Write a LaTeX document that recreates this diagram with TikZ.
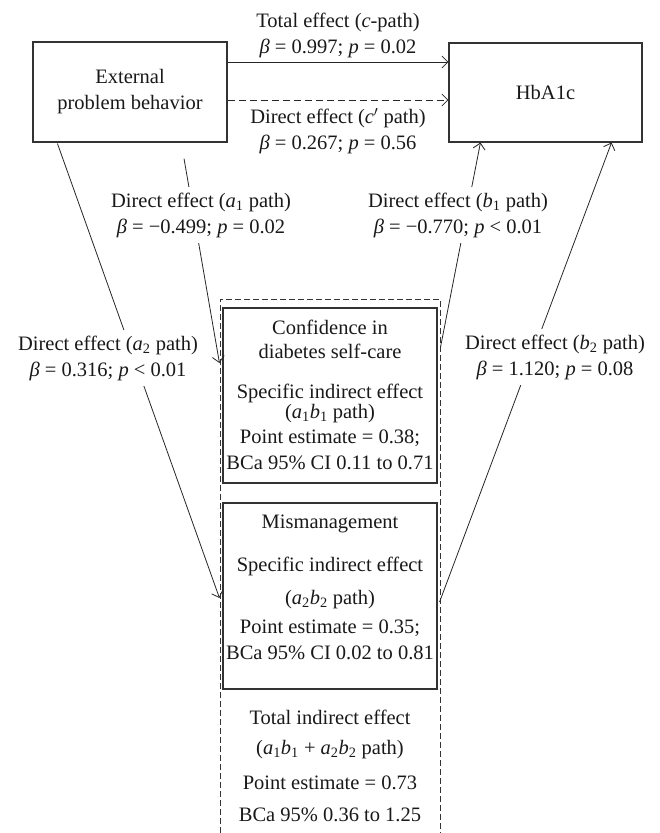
\documentclass[tikz,border=0pt]{standalone}
\usepackage{fontspec}
\setmainfont{Liberation Serif}
\usetikzlibrary{arrows.meta,calc}
\newcommand\vi[1]{\textit{#1}}
\newcommand\vsub[2]{\textit{#1}\textsubscript{#2}}
\begin{document}
\begin{tikzpicture}[x=1pt,y=-1pt,
  every node/.style={font=\fontsize{20.5}{26}\selectfont, text=black!90},
  box/.style={draw=black!80, line width=1.1pt, align=center, inner sep=0pt},
  lbl/.style={fill=white, align=center, inner xsep=3pt, inner ysep=6pt},
  ln/.style={anchor=base, inner sep=0pt},
  conn/.style={draw=black!85, line width=0.8pt, -{Straight Barb[length=6pt,width=12pt,line width=0.8pt]}},
  grp/.style={draw=black!80, line width=0.9pt, dash pattern=on 6pt off 3pt}]

\useasboundingbox (0,0) rectangle (659,833);

% main boxes
\node[box, minimum width=194pt, minimum height=100pt] (ext) at (130,92) {External\\problem behavior};
\node[box, minimum width=193pt, minimum height=99pt] (hba) at (545.5,92.5) {HbA1c};
\node[box, minimum width=214pt, minimum height=175pt] (conf) at (330,395.5) {};
\node[box, minimum width=214pt, minimum height=186pt] (mis) at (330,596) {};

% dashed group (open at bottom)
\coordinate (gbl) at (220,833);
\coordinate (gtl) at (220,299);
\coordinate (gtr) at (440,299);
\coordinate (gbr) at (440,833);
\draw[grp] (gbl) -- (gtl) -- (gtr) -- (gbr);

% text in box 1
\node[ln] (c1) at (330,334) {Confidence in};
\node[ln] (c2) at (330,358) {diabetes self-care};
\node[ln] (c3) at (330,398) {Specific indirect effect};
\node[ln] (c4) at (330,418) {(\vsub{a}{1}\vsub{b}{1} path)};
\node[ln] (c5) at (330,443) {Point estimate = 0.38;};
\node[ln] (c6) at (330,469) {BCa 95\% CI 0.11 to 0.71};

% text in box 2
\node[ln] (m1) at (330,528) {Mismanagement};
\node[ln] (m2) at (330,571) {Specific indirect effect};
\node[ln] (m3) at (330,604) {(\vsub{a}{2}\vsub{b}{2} path)};
\node[ln] (m4) at (330,633) {Point estimate = 0.35;};
\node[ln] (m5) at (330,659) {BCa 95\% CI 0.02 to 0.81};

% total indirect effect
\node[ln] (t1) at (330,724) {Total indirect effect};
\node[ln] (t2) at (330,754) {(\vsub{a}{1}\vsub{b}{1} + \vsub{a}{2}\vsub{b}{2} path)};
\node[ln] (t3) at (330,789) {Point estimate = 0.73};
\node[ln] (t4) at (330,821) {BCa 95\% 0.36 to 1.25};

% connectors
\draw[conn] ($(ext.east)+(0,-30)$) -- ($(hba.west)+(0,-30.5)$);
\draw[conn, dash pattern=on 7pt off 4pt] ($(ext.east)+(0,8)$) -- ($(hba.west)+(0,7.5)$);
\draw[conn] ($(ext.south)+(54,16)$) -- ($(conf.west)+(-3,-32.5)$);
\draw[conn] ($(ext.south west)+(25,1)$) -- ($(mis.west)+(-3,2)$);
\draw[conn] ($(conf.east)+(3,-48.5)$) -- ($(hba.south west)+(32,0)$);
\draw[conn] ($(mis.east)+(2,6)$) -- ($(hba.south east)+(-31,0)$);

% labels
\node[align=center, inner sep=0pt] (lc) at (338,35) {Total effect (\vi{c}-path)\\\vi{β} = 0.997; \vi{p} = 0.02};
\node[align=center, inner sep=0pt] (lcp) at (338,131) {Direct effect (\vi{c}$'$ path)\\\vi{β} = 0.267; \vi{p} = 0.56};
\node[lbl] (la1) at (201,215) {Direct effect (\vsub{a}{1} path)\\\vi{β} = −0.499; \vi{p} = 0.02};
\node[lbl] (lb1) at (458,215) {Direct effect (\vsub{b}{1} path)\\\vi{β} = −0.770; \vi{p} < 0.01};
\node[lbl] (la2) at (108,358) {Direct effect (\vsub{a}{2} path)\\\vi{β} = 0.316; \vi{p} < 0.01};
\node[lbl] (lb2) at (555,357) {Direct effect (\vsub{b}{2} path)\\\vi{β} = 1.120; \vi{p} = 0.08};
\end{tikzpicture}
\end{document}
